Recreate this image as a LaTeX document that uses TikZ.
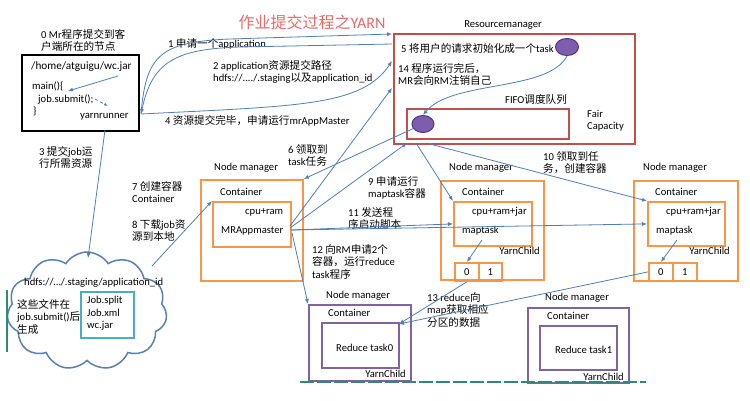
\documentclass[tikz,border=0pt]{standalone}
\usepackage{fontspec}
\setmainfont{Carlito}
\newfontfamily\latf{Carlito}
\newfontfamily\cjkf{Noto Sans CJK SC}
\XeTeXinterchartokenstate=1
\newXeTeXintercharclass\CJKclass
\newcount\mycnt
\mycnt="4E00
\loop
  \XeTeXcharclass\mycnt=\CJKclass
  \ifnum\mycnt<"9FFF \advance\mycnt by 1
\repeat
\XeTeXcharclass"FF0C=\CJKclass
\XeTeXcharclass"3001=\CJKclass
\XeTeXcharclass"3002=\CJKclass
\XeTeXinterchartoks 0 \CJKclass = {\cjkf}
\XeTeXinterchartoks 4095 \CJKclass = {\cjkf}
\XeTeXinterchartoks \CJKclass 0 = {\latf}
\XeTeXinterchartoks \CJKclass 4095 = {\latf}
\usetikzlibrary{arrows.meta,shapes.geometric,shapes.symbols}
\definecolor{arr}{HTML}{4F7FB5}
\definecolor{rmred}{HTML}{C0504D}
\definecolor{nmor}{HTML}{F79646}
\definecolor{rdpur}{HTML}{8064A2}
\definecolor{jobteal}{HTML}{4BACC6}
\definecolor{ttl}{HTML}{E46C6C}
\definecolor{ellf}{HTML}{7E5DAE}
\definecolor{elld}{HTML}{4B3A7C}
\definecolor{cloudc}{HTML}{5A80AE}
\definecolor{artg}{HTML}{2E8B72}
\begin{document}
\begin{tikzpicture}[x=1pt,y=-1pt,
  txt/.style={font=\fontsize{10.6}{12.5}\selectfont, inner sep=0pt, align=left},
  con/.style={draw=arr, line width=0.8pt, -{Latex[length=5pt,width=4pt]}},
  boxn/.style={draw, inner sep=0pt, anchor=north west},
  orbox/.style={boxn, draw=nmor, line width=1.8pt},
  rdbox/.style={boxn, draw=rmred, line width=1.8pt},
  pubox/.style={boxn, draw=rdpur, line width=1.6pt},
  purple ell/.style={ellipse, fill=ellf, draw=elld, line width=1pt, inner sep=0pt}]
\useasboundingbox (0,0) rectangle (750,401);
\fill[white] (0,0) rectangle (750,401);

% title
\node[txt, font=\fontsize{16}{18}\selectfont, text=ttl] (title) at (312,22) {作业提交过程之YARN};

% client
\node[boxn, line width=2.4pt, minimum width=117pt, minimum height=76pt] (cl) at (21,54) {};
\node[txt, anchor=north west] (lbl0) at (41,29) {0 Mr程序提交到客\\户端所在的节点};
\node[txt, anchor=west, font=\fontsize{11.2}{13}\selectfont] (jar) at (31,67) {/home/atguigu/wc.jar};
\node[txt, anchor=west] (mainf) at (32,86) {main()\{};
\node[txt, anchor=west] (jsub) at (38,100) {job.submit();};
\node[txt, anchor=west] (brace) at (33,111) {\}};
\node[txt, anchor=west] (yrn) at (80,117) {yarnrunner};
\coordinate (yr) at (141,114);
\coordinate (jarA) at (118,76);
\coordinate (mainA) at (68,91);
\coordinate (subA) at (95,99);
\coordinate (subB) at (108,106);
\draw[con] (jarA) -- (mainA);
\draw[con, dashed, -{Latex[length=4pt,width=3pt]}] (subA) -- (subB);

% resource manager
\node[txt, anchor=center] (rmlbl) at (503,25) {Resourcemanager};
\node[rdbox, minimum width=241pt, minimum height=110pt] (rm) at (393,33) {};
\node[txt, anchor=west] (lbl5) at (401,48) {5 将用户的请求初始化成一个task};
\node[purple ell, minimum width=23pt, minimum height=17pt] (e1) at (567,47) {};
\node[txt, anchor=north west] (lbl14) at (398,63) {14 程序运行完后，\\MR会向RM注销自己};
\node[txt, anchor=center] (fifolbl) at (536,99) {FIFO调度队列};
\node[rdbox, minimum width=162pt, minimum height=30pt] (fifo) at (406,108) {};
\node[purple ell, minimum width=22pt, minimum height=17pt] (e2) at (423,124) {};
\node[txt, anchor=north west] (fair) at (587,110) {Fair\\Capacity};
\draw[con] (e1.south) .. controls (548,92) and (452,80) .. (e2.north);

\coordinate (rm1) at (392,34);
\coordinate (rm2) at (392,44);
\coordinate (rm3) at (392,61);
\coordinate (rm4) at (392,88);
\coordinate (rm5) at (407,143);
\coordinate (rm6) at (416,143);
\coordinate (rm7) at (426,143);

\node[txt, anchor=west] (lbl1) at (168,44) {1 申请一个application};
\node[txt, anchor=north west] (lbl2) at (213,60) {2 application资源提交路径\\hdfs://..../.staging以及application\_id};
\node[txt, anchor=west] (lbl4) at (165,121) {4 资源提交完毕，申请运行mrAppMaster};
\draw[con] (yr) .. controls (146,55) and (160,42) .. (230,39) -- (rm1);
\draw[con] (rm2) -- (240,47) .. controls (175,49) and (152,62) .. (yr);
\draw[con] (yr) .. controls (300,106) and (362,106) .. (rm3);

% cloud
\node[cloud, cloud puffs=11, cloud puff arc=115, draw=cloudc, line width=1.5pt, minimum width=160pt, minimum height=118pt, inner sep=0pt] (cloud) at (87,311) {};
\draw[artg, line width=1.5pt] (7,290) -- (7,352);
\node[txt, anchor=west] (hdfs) at (24,283) {hdfs://…/.staging/application\_id};
\node[boxn, draw=jobteal, line width=1.5pt, minimum width=53pt, minimum height=46pt] (files) at (80,291) {};
\node[txt, anchor=north west] (fl) at (87,296) {Job.split\\Job.xml\\wc.jar};
\node[txt, anchor=north west] (gen) at (17,299) {这些文件在\\job.submit()后\\生成};
\node[txt, anchor=north west] (lbl3) at (39,146) {3 提交job运\\行所需资源};
\coordinate (clB) at (105,130);
\coordinate (cloudT) at (88,258);
\draw[con] (clB) -- (cloudT);

% node manager 1
\node[txt, anchor=west] (nm1lbl) at (214,168) {Node manager};
\node[orbox, minimum width=102pt, minimum height=101pt] (nm1) at (200,179) {};
\node[txt, anchor=west] (nm1ct) at (220,192) {Container};
\node[orbox, minimum width=78pt, minimum height=45pt] (nm1c) at (212,201) {};
\node[txt, anchor=west] (cr1) at (245,212) {cpu+ram};
\node[txt, anchor=west] (mram) at (221,231) {MRAppmaster};
\node[txt, anchor=north west] (lbl7) at (132,181) {7 创建容器\\Container};
\node[txt, anchor=north west] (lbl8) at (132,219) {8 下载job资\\源到本地};
\coordinate (cloudR) at (152,266);
\draw[con] (cloudR) -- (nm1c.north west);

% node manager 2
\node[txt, anchor=west] (nm2lbl) at (449,168) {Node manager};
\node[orbox, minimum width=103pt, minimum height=99pt] (nm2) at (440,180) {};
\node[txt, anchor=west] (nm2ct) at (462,192) {Container};
\node[orbox, minimum width=78pt, minimum height=44pt] (nm2c) at (453,201) {};
\node[txt, anchor=west] (cr2) at (472,212) {cpu+ram+jar};
\node[txt, anchor=west] (mt2) at (462,231) {maptask};
\node[txt, anchor=east] (yc2) at (540,251) {YarnChild};
\node[orbox, minimum width=24pt, minimum height=18pt] (b20) at (454,262) {};
\node[orbox, minimum width=23pt, minimum height=18pt] (b21) at (478,262) {};
\node[txt] at (b20.center) (t20) {0};
\node[txt] at (b21.center) (t21) {1};
\coordinate (mt2A) at (482,240);
\draw[con] (mt2A) -- (b20.north);

% node manager 3
\node[txt, anchor=west] (nm3lbl) at (643,168) {Node manager};
\node[orbox, minimum width=104pt, minimum height=100pt] (nm3) at (633,180) {};
\node[txt, anchor=west] (nm3ct) at (655,192) {Container};
\node[orbox, minimum width=77pt, minimum height=44pt] (nm3c) at (647,201) {};
\node[txt, anchor=west] (cr3) at (666,212) {cpu+ram+jar};
\node[txt, anchor=west] (mt3) at (656,231) {maptask};
\node[txt, anchor=east] (yc3) at (730,251) {YarnChild};
\node[orbox, minimum width=24pt, minimum height=18pt] (b30) at (648,262) {};
\node[orbox, minimum width=24pt, minimum height=18pt] (b31) at (672,262) {};
\node[txt] at (b30.center) (t30) {0};
\node[txt] at (b31.center) (t31) {1};
\coordinate (mt3A) at (677,240);
\draw[con] (mt3A) -- (b30.north);

% reduce nodes
\node[txt, anchor=west] (r1lbl) at (326,296) {Node manager};
\node[pubox, minimum width=102pt, minimum height=76pt] (r1) at (308,304) {};
\node[txt, anchor=west] (r1ct) at (328,313) {Container};
\node[pubox, minimum width=77pt, minimum height=45pt] (r1c) at (321,322) {};
\node[txt, anchor=west] (rt0) at (336,348) {Reduce task0};
\node[txt, anchor=east] (ry1) at (406,374) {YarnChild};

\node[txt, anchor=west] (r2lbl) at (545,298) {Node manager};
\node[pubox, minimum width=101pt, minimum height=75pt] (r2) at (527,307) {};
\node[txt, anchor=west] (r2ct) at (547,316) {Container};
\node[pubox, minimum width=77pt, minimum height=44pt] (r2c) at (539,325) {};
\node[txt, anchor=west] (rt1) at (555,350) {Reduce task1};
\node[txt, anchor=east] (ry2) at (624,377) {YarnChild};

\draw[artg, line width=1.5pt, dash pattern=on 14pt off 3pt] (300,382) -- (646,382);

% MRAppmaster connectors
\coordinate (mraA) at (290,226);
\coordinate (mraB) at (290,228);
\coordinate (mraC) at (291,230);
\coordinate (mraD) at (292,233);
\node[txt, anchor=north west] (lbl6) at (288,144) {6 领取到\\task任务};
\node[txt, anchor=north west] (lbl9) at (368,176) {9 申请运行\\maptask容器};
\node[txt, anchor=north west] (lbl11) at (348,207) {11 发送程\\序启动脚本};
\node[txt, anchor=north west] (lbl12) at (312,244) {12 向RM申请2个\\容器，运行reduce\\task程序};
\node[txt, anchor=north west] (lbl10) at (543,151) {10 领取到任\\务，创建容器};
\node[txt, anchor=north west] (lbl13) at (427,292) {13 reduce向\\map获取相应\\分区的数据};
\draw[con] (mraA) -- (rm4);
\draw[con] (mraB) -- (rm5);
\draw[con] (e2) -- (nm1.north east);
\draw[con] (rm6) -- (nm2c.north west);
\draw[con] (rm7) -- (nm3c.north west);
\draw[con] (mraC) -- (nm2c.west);
\draw[con] (mraC) -- (nm3c.west);
\draw[con] (mraD) -- (r1.north west);
\coordinate (r13) at (399,324);
\draw[con] (b20.south) -- (r13);
\draw[con] (b30.west) -- (r13);
\end{tikzpicture}
\end{document}
